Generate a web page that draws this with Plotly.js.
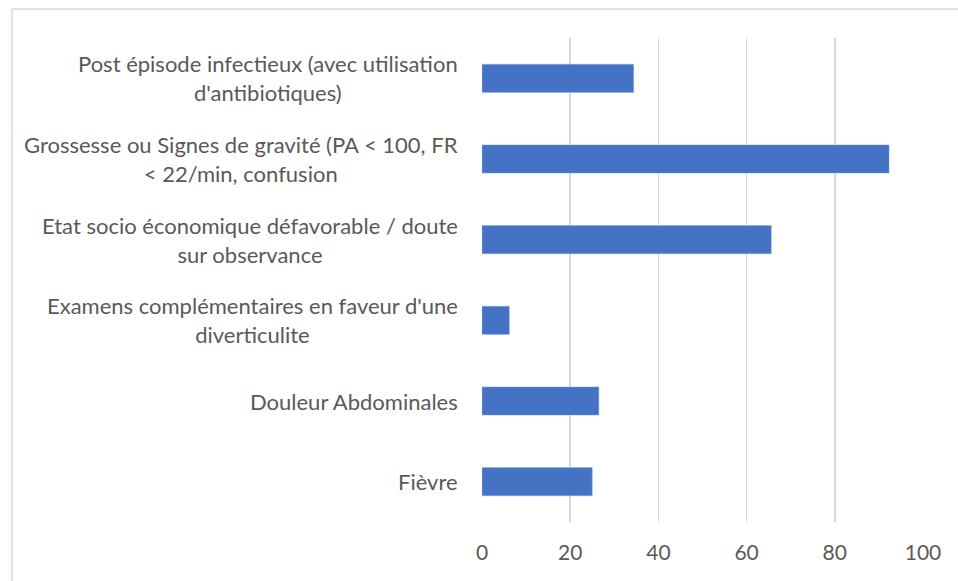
<!DOCTYPE html>
<html>
<head>
<meta charset="utf-8">
<script src="https://cdn.plot.ly/plotly-3.0.1.min.js"></script>
<style>html,body{margin:0;padding:0;background:#fff;}#chart{width:958px;height:581px;}</style>
</head>
<body>
<div id="chart"></div>
<script>
const categories = [
  "Fièvre",
  "Douleur Abdominales",
  "Examens complémentaires en faveur d'une diverticulite",
  "Etat socio économique défavorable / doute sur observance",
  "Grossesse ou Signes de gravité (PA < 100, FR < 22/min, confusion",
  "Post épisode infectieux (avec utilisation d'antibiotiques)"
];
const labelLines = [
  "Fièvre",
  "Douleur Abdominales",
  "Examens complémentaires en faveur d'une<br>diverticulite",
  "Etat socio économique défavorable / doute<br>sur observance",
  "Grossesse ou Signes de gravité (PA &lt; 100, FR<br>&lt; 22/min, confusion",
  "Post épisode infectieux (avec utilisation<br>d'antibiotiques)"
];
const values = [25.0, 26.5, 6.2, 65.6, 92.3, 34.4];
const xTicks = [0, 20, 40, 60, 80, 100];

const FONT = "Lato, 'Open Sans', sans-serif";
const TXT = "#595959";

const annotations = categories.map((c, i) => ({
  xref: "paper", yref: "y", x: 0, y: c,
  xanchor: "right", yanchor: "middle", xshift: -22,
  text: labelLines[i], showarrow: false, align: "center",
  font: {family: FONT, size: 22, color: TXT}
}));

Plotly.newPlot("chart", [{
  type: "bar", orientation: "h",
  x: values, y: categories,
  marker: {color: "#4472C4", line: {color: "#8faadc", width: 0.5}},
  hoverinfo: "none"
}], {
  width: 958, height: 581,
  margin: {l: 482, r: 35, t: 38, b: 59},
  paper_bgcolor: "#fff", plot_bgcolor: "#fff",
  bargap: 0.65,
  showlegend: false,
  xaxis: {
    range: [0, 100], tickvals: xTicks, ticktext: xTicks.map(String),
    showgrid: true, gridcolor: "#d9d9d9", gridwidth: 1.5,
    zeroline: false, showline: false, ticks: "",
    ticklabelstandoff: 16,
    tickfont: {family: FONT, size: 21, color: TXT},
    fixedrange: true
  },
  yaxis: {
    categoryorder: "array", categoryarray: categories,
    showticklabels: false, showgrid: false, zeroline: false, showline: false, ticks: "",
    fixedrange: true
  },
  annotations: annotations,
  shapes: [
    {type: "line", xref: "paper", yref: "paper", x0: -1.066, x1: -1.066, y0: -0.2, y1: 1.06, line: {color: "#d9d9d9", width: 1.5}},
    {type: "line", xref: "paper", yref: "paper", x0: -1.066, x1: 1.2, y0: 1.06, y1: 1.06, line: {color: "#d9d9d9", width: 1.5}}
  ]
}, {displayModeBar: false, staticPlot: true});
</script>
</body>
</html>
